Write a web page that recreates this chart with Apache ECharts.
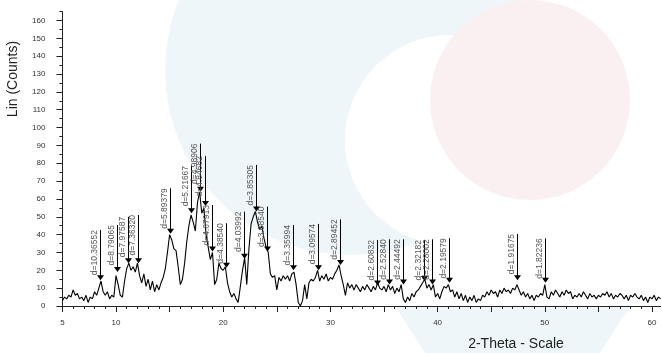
<!DOCTYPE html>
<html>
<head>
<meta charset="utf-8">
<script src="https://cdn.jsdelivr.net/npm/echarts@6/dist/echarts.min.js"></script>
<style>html,body{margin:0;padding:0;background:#fff}#c{width:662px;height:353px}</style>
</head>
<body>
<div id="c"></div>
<script>
// XRD scan: 2-theta from 5.0 deg, step 0.2 deg
const scanStart = 5.0;
const scanStep = 0.2;
const counts = [
  3,5,4,6,5,9,6,7,4,5,
  3,6,2,5,4,8,6,10,14,8,
  6,8,4,6,5,17,12,6,5,14,
  21,24,20,22,19,24,17,13,18,11,
  15,9,14,8,12,9,13,16,21,30,
  40,37,32,31,22,12,15,24,36,45,
  51,47,42,58,64,52,55,40,33,26,
  30,12,15,24,21,20,22,13,8,5,
  7,4,2,11,20,27,12,32,46,50,
  53,47,43,45,38,33,30,18,16,17,
  9,16,14,17,15,17,14,18,19,12,
  2,0,3,12,4,13,15,14,16,20,
  14,17,15,18,14,16,15,18,20,23,
  17,12,6,13,10,12,9,12,10,8,
  11,9,12,10,8,11,9,13,10,9,
  11,8,12,9,11,7,10,8,12,4,
  2,5,3,7,5,8,9,11,13,15,
  10,12,9,12,5,7,4,8,11,10,
  12,8,9,5,8,4,7,3,6,2,
  5,3,6,2,4,3,6,5,8,6,
  9,7,8,5,9,7,10,8,9,7,
  10,9,12,9,6,8,5,7,4,6,
  3,6,5,7,6,12,5,4,8,6,
  9,7,5,8,6,9,7,8,4,6,
  5,7,5,8,6,4,7,5,6,4,
  6,5,7,6,8,5,7,4,6,5,
  7,6,4,6,3,6,5,7,5,4,
  6,3,5,2,5,4,6,3,5,4
];

// Peak markers
const peakTheta = [8.52,10.05,11.08,12.01,15.02,16.98,17.80,18.29,18.95,20.24,21.98,23.06,24.13,26.51,28.82,30.87,34.35,35.47,36.73,38.75,39.49,41.07,47.39,50.01];
const peakApex  = [14.5,19,24,24,40.5,52,64,56,30.5,21.5,26.5,53,30.5,20,20,23,11.5,12,12,14,12,13,14.5,13];
const peakTop   = [42.6,45.4,50,51,66,78.5,91,84,56.6,46.4,52.9,79,55.7,45.4,46,48.6,37,37.4,37.4,37,37.4,38,40.4,37.9];
const peakLabel = ['d=10.36552','d=8.79065','d=7.97587','d=7.36320','d=5.89379','d=5.21667','d=4.98906','d=4.84682','d=4.67913','d=4.38540','d=4.03992','d=3.85305','d=3.68540','d=3.35994','d=3.09574','d=2.89452','d=2.60832','d=2.52840','d=2.44492','d=2.32182','d=2.28002','d=2.19579','d=1.91675','d=1.82236'];

// Axis ticks / labels
const xLabelValues = [5,10,20,30,40,50,60];
const xMajorTicks = [5,10,15,20,25,30,35,40,45,50,55,60];
const yLabelValues = [0,10,20,30,40,50,60,70,80,90,100,110,120,130,140,150,160];

const xMinorTicks = [];
for (let v = 5; v <= 60; v++) xMinorTicks.push(v);
const yMinorTicks = [];
for (let v = 0; v <= 165; v += 5) yMinorTicks.push(v);

const lineData = counts.map((c, i) => [+(scanStart + i * scanStep).toFixed(2), c]);
const peakData = peakTheta.map((t, i) => [t, peakApex[i], peakTop[i], i]);

const FONT = 'Liberation Sans';
const chart = echarts.init(document.getElementById('c'), null, {renderer: 'canvas'});
const option = {
  backgroundColor: '#fff',
  animation: false,
  grid: {left: 62.4, top: 11.6, width: 598.2, height: 294.4},
  xAxis: [
    {type: 'value', min: 5, max: 60.8, position: 'bottom',
     axisLine: {lineStyle: {color: '#222', width: 1}},
     axisTick: {length: 3, customValues: xMinorTicks, lineStyle: {color: '#222'}},
     axisLabel: {customValues: xLabelValues, fontSize: 8, color: '#333', margin: 13, fontFamily: FONT},
     splitLine: {show: false}},
    {type: 'value', min: 5, max: 60.8, position: 'bottom',
     axisLine: {show: false},
     axisTick: {length: 6, customValues: xMajorTicks, lineStyle: {color: '#222'}},
     axisLabel: {show: false}, splitLine: {show: false}}
  ],
  yAxis: [
    {type: 'value', min: 0, max: 165, position: 'left',
     axisLine: {show: true, lineStyle: {color: '#222', width: 1}},
     axisTick: {show: true, length: 3, customValues: yMinorTicks, lineStyle: {color: '#222'}},
     axisLabel: {customValues: yLabelValues, fontSize: 8, color: '#333', margin: 17, fontFamily: FONT},
     splitLine: {show: false}},
    {type: 'value', min: 0, max: 165, position: 'left',
     axisLine: {show: false},
     axisTick: {show: true, length: 6, customValues: yLabelValues, lineStyle: {color: '#222'}},
     axisLabel: {show: false}, splitLine: {show: false}}
  ],
  graphic: [
    {type: 'circle', z: -10, silent: true, shape: {cx: 350, cy: 70, r: 185}, style: {fill: '#eff6f9'}},
    {type: 'circle', z: -9, silent: true, shape: {cx: 450, cy: 140, r: 105}, style: {fill: '#ffffff'}},
    {type: 'circle', z: -8, silent: true, shape: {cx: 530, cy: 100, r: 100}, style: {fill: '#faeff1'}},
    {type: 'polygon', z: -10, silent: true, shape: {points: [[395,306],[630,306],[600,353],[425,353]]}, style: {fill: '#eff6f9'}},
    {type: 'text', x: 13, y: 79, rotation: Math.PI / 2,
     style: {text: 'Lin (Counts)', fontSize: 14, fontFamily: FONT, fill: '#222', align: 'center', verticalAlign: 'middle'}},
    {type: 'text', x: 516, y: 344,
     style: {text: '2-Theta - Scale', fontSize: 14, fontFamily: FONT, fill: '#222', align: 'center', verticalAlign: 'middle'}}
  ],
  series: [
    {type: 'line', xAxisIndex: 0, yAxisIndex: 0, data: lineData, showSymbol: false, symbol: 'none',
     lineStyle: {color: '#000', width: 1.1}, z: 3, silent: true},
    {type: 'custom', xAxisIndex: 0, yAxisIndex: 0, data: peakData, z: 4, silent: true,
     renderItem: function (params, api) {
       const pa = api.coord([api.value(0), api.value(1)]);
       const pt = api.coord([api.value(0), api.value(2)]);
       const idx = api.value(3);
       const px = Math.round(pa[0]) + 0.5;
       return {type: 'group', children: [
         {type: 'line', shape: {x1: px, y1: pt[1], x2: px, y2: pa[1] - 4}, style: {stroke: '#000', lineWidth: 1}},
         {type: 'polygon', shape: {points: [[px - 3.5, pa[1] - 5], [px + 3.5, pa[1] - 5], [px, pa[1]]]}, style: {fill: '#000'}},
         {type: 'text', x: px - 1.5, y: pt[1], rotation: Math.PI / 2,
          style: {text: peakLabel[idx], align: 'right', verticalAlign: 'bottom', fontSize: 8.5, fontFamily: FONT, fill: '#555'}}
       ]};
     }}
  ]
};
chart.setOption(option);
</script>
</body>
</html>
